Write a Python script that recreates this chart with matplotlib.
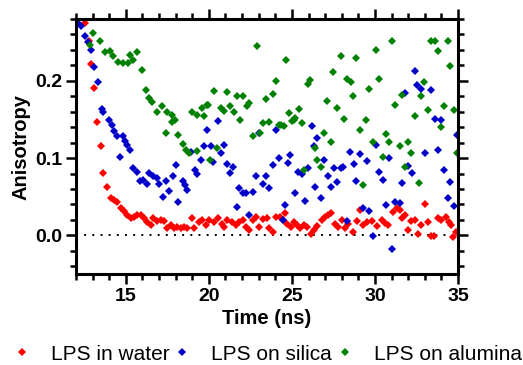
import numpy as np
import matplotlib
matplotlib.use("Agg")
import matplotlib.pyplot as plt
from matplotlib.ticker import MultipleLocator

plt.rcParams['font.family'] = ['Liberation Sans', 'DejaVu Sans']

# anisotropy decays
water_t = [12.54, 12.8, 12.9, 13.08, 13.28, 13.49, 13.65, 13.89, 14.09, 14.31, 14.49, 14.69,
           14.89, 15.09, 15.3, 15.49, 15.69, 15.9, 16.1, 16.3, 16.5, 16.66, 16.9, 17.1, 17.3,
           17.5, 17.7, 17.9, 18.1, 18.3, 18.5, 18.7, 18.97, 19.1, 19.43, 19.57, 19.83, 20.03,
           20.31, 20.57, 20.78, 20.92, 21.12, 21.38, 21.64, 21.84, 22.04, 22.24, 22.44, 22.64,
           22.84, 23.04, 23.24, 23.49, 23.65, 23.85, 24.05, 24.29, 24.49, 24.59, 24.73, 24.93,
           25.13, 25.33, 25.49, 25.73, 25.9, 26.14, 26.34, 26.54, 26.8, 27.0, 27.2, 27.34,
           27.6, 27.8, 28.0, 28.2, 28.4, 28.7, 28.9, 29.1, 29.3, 29.5, 29.8, 30.1, 30.4, 30.6,
           30.8, 31.1, 31.32, 31.48, 31.6, 31.8, 32.0, 32.2, 32.4, 32.6, 32.8, 33.02, 33.2,
           33.4, 33.55, 33.8, 34.0, 34.3, 34.45, 34.55, 34.7, 34.9]
water_r = [0.275, 0.251, 0.222, 0.191, 0.147, 0.116, 0.081, 0.063, 0.048, 0.046, 0.043, 0.036,
           0.032, 0.027, 0.022, 0.024, 0.027, 0.026, 0.022, 0.017, 0.014, 0.022, 0.019, 0.020, 0.019,
           0.009, 0.013, 0.010, 0.011, 0.009, 0.011, 0.010, 0.023, 0.009, 0.017, 0.020, 0.014, 0.020,
           0.017, 0.022, 0.015, 0.011, 0.020, 0.017, 0.014, 0.017, 0.020, 0.011, 0.007, 0.020,
           0.024, 0.011, 0.021, 0.022, 0.010, 0.004, 0.024, 0.024, 0.020, 0.029, 0.015, 0.011,
           0.017, 0.013, 0.010, 0.013, 0.011, 0.002, 0.007, 0.012, 0.020, 0.024, 0.026, 0.029,
           0.015, 0.011, 0.020, 0.010, 0.015, 0.004, 0.019, 0.033, 0.013, 0.017, 0.019, 0.012, 0.020, 0.016,
           0.013, 0.030, 0.035, 0.033, 0.022, 0.026, 0.007, 0.019, 0.020, 0.002, 0.013, 0.041, 0.017,
           -0.001, -0.001, 0.022, 0.020, 0.024, 0.017, 0.013, -0.002, 0.004]

silica_t = [12.14, 12.28, 12.54, 12.7, 12.9, 13.1, 13.3, 13.55, 13.65, 14.0, 14.15, 14.29, 14.49,
            14.65, 14.81, 14.95, 15.05, 15.25, 15.45, 15.65, 15.86, 16.05, 16.26, 16.42, 16.66,
            16.86, 17.02, 17.22, 17.42, 17.62, 17.83, 18.02, 18.16, 18.43, 18.57, 18.7, 18.91,
            19.17, 19.31, 19.51, 19.71, 19.9, 20.11, 20.27, 20.53, 20.72, 20.92, 21.08, 21.28,
            21.48, 21.68, 21.84, 22.04, 22.24, 22.44, 22.68, 22.84, 23.04, 23.25, 23.45, 23.65,
            23.85, 24.05, 24.25, 24.45, 24.59, 24.79, 24.9, 25.19, 25.39, 25.59, 25.79, 25.99,
            26.2, 26.36, 26.4, 26.54, 26.74, 26.94, 27.16, 27.34, 27.54, 27.74, 27.95, 28.1,
            28.3, 28.5, 28.75, 28.87, 29.1, 29.27, 29.51, 29.67, 29.87, 30.07, 30.27, 30.48,
            30.67, 30.87, 31.02, 31.22, 31.48, 31.62, 31.82, 32.02, 32.22, 32.42, 32.56, 32.78,
            33.02, 33.37, 33.6, 33.77, 33.97, 34.17, 34.37, 34.53, 34.73, 34.93]
silica_r = [0.275, 0.271, 0.258, 0.250, 0.240, 0.218, 0.199, 0.163, 0.160, 0.149, 0.143, 0.135, 0.128,
            0.102, 0.128, 0.122, 0.117, 0.111, 0.087, 0.082, 0.071, 0.072, 0.067, 0.081, 0.077,
            0.074, 0.066, 0.050, 0.071, 0.058, 0.077, 0.091, 0.043, 0.071, 0.065, 0.059, 0.108,
            0.084, 0.080, 0.097, 0.116, 0.137, 0.116, 0.095, 0.148, 0.106, 0.117, 0.092, 0.081,
            0.089, 0.037, 0.061, 0.055, 0.055, 0.026, 0.056, 0.077, 0.132, 0.066, 0.077, 0.061,
            0.091, 0.136, 0.100, 0.020, 0.039, 0.094, 0.104, 0.055, 0.082, 0.079, 0.045, 0.087,
            0.141, 0.116, 0.063, 0.126, 0.049, 0.097, 0.077, 0.063, 0.087, 0.069, 0.087, 0.088,
            0.019, 0.108, 0.092, 0.071, 0.105, 0.035, 0.096, 0.032, -0.001, 0.117, 0.082, 0.072,
            0.039, 0.100, -0.018, 0.043, 0.042, 0.068, 0.184, 0.090, 0.081, 0.213, 0.195, 0.190,
            0.106, 0.188, 0.151, 0.111, 0.149, 0.084, 0.048, 0.069, 0.038, 0.130]

alumina_t = [12.84, 13.04, 13.45, 13.75, 14.05, 14.25, 14.55, 14.85, 15.15, 15.25, 15.45, 15.65,
             15.96, 16.2, 16.42, 16.56, 16.86, 17.16, 17.42, 17.46, 17.76, 17.78, 17.96, 18.16,
             18.43, 18.63, 18.83, 18.97, 19.27, 19.31, 19.57, 19.71, 19.87, 19.97, 20.07, 20.31,
             20.48, 20.72, 20.9, 21.11, 21.3, 21.5, 21.68, 21.9, 22.08, 22.28, 22.44, 22.64,
             22.88, 23.08, 23.25, 23.45, 23.65, 23.85, 24.03, 24.2, 24.35, 24.5, 24.63, 24.8,
             24.99, 25.1, 25.2, 25.4, 25.6, 25.73, 25.94, 26.1, 26.4, 26.54, 26.74, 26.94, 27.14,
             27.34, 27.5, 27.74, 27.94, 28.12, 28.3, 28.55, 28.7, 28.87, 29.1, 29.3, 29.47,
             29.67, 29.87, 30.07, 30.25, 30.48, 30.67, 30.87, 31.02, 31.22, 31.48, 31.62, 31.82,
             32.02, 32.18, 32.42, 32.63, 32.78, 32.98, 33.19, 33.37, 33.6, 33.77, 33.95, 34.17,
             34.37, 34.53, 34.73, 34.93]
alumina_r = [0.247, 0.262, 0.251, 0.237, 0.239, 0.232, 0.225, 0.223, 0.223, 0.234, 0.227, 0.237,
             0.214, 0.188, 0.178, 0.173, 0.160, 0.167, 0.133, 0.160, 0.156, 0.147, 0.149, 0.130,
             0.118, 0.111, 0.107, 0.160, 0.156, 0.109, 0.165, 0.154, 0.169, 0.169, 0.097, 0.187,
             0.113, 0.165, 0.161, 0.185, 0.168, 0.160, 0.181, 0.149, 0.180, 0.168, 0.171, 0.128,
             0.245, 0.133, 0.145, 0.177, 0.147, 0.183, 0.200, 0.143, 0.143, 0.141, 0.227, 0.159,
             0.148, 0.149, 0.152, 0.163, 0.145, 0.085, 0.196, 0.201, 0.113, 0.097, 0.089, 0.132, 0.174,
             0.121, 0.211, 0.165, 0.232, 0.150, 0.203, 0.199, 0.180, 0.229, 0.136, 0.065, 0.149,
             0.189, 0.121, 0.240, 0.203, 0.101, 0.131, 0.121, 0.252, 0.169, 0.116, 0.182, 0.088,
             0.121, 0.106, 0.155, 0.068, 0.181, 0.199, 0.162, 0.252, 0.252, 0.238, 0.140, 0.167,
             0.252, 0.219, 0.162, 0.107]

series = [("LPS in water", water_t, water_r, "#ff0000"),
          ("LPS on silica", silica_t, silica_r, "#0000c8"),
          ("LPS on alumina", alumina_t, alumina_r, "#008000")]

fig = plt.figure(figsize=(5.23, 3.65), dpi=100)
ax = fig.add_axes([0.1453, 0.2493, 0.7304, 0.6986])

for label, t, r, c in series:
    ax.plot(t, r, ls="none", marker="D", ms=4.2, mew=0, color=c, label=label)

ax.axhline(0, color="black", ls=(0, (1, 3.2)), lw=1.4, zorder=0)

ax.set_xlim(12, 35)
ax.set_ylim(-0.05, 0.28)
ax.set_xticks([15, 20, 25, 30, 35])
ax.set_yticks([0.0, 0.1, 0.2])
ax.set_yticklabels(["0.0", "0.1", "0.2"])
ax.xaxis.set_minor_locator(MultipleLocator(1))
ax.yaxis.set_minor_locator(MultipleLocator(0.02))

for s in ax.spines.values():
    s.set_linewidth(2.2)
ax.tick_params(which="both", direction="out", top=True, right=True, width=1.8)
ax.tick_params(which="major", length=7, labelsize=14, pad=3)
ax.tick_params(which="minor", length=4)
for lab in ax.get_xticklabels() + ax.get_yticklabels():
    lab.set_fontweight("bold")

ax.set_xlabel("Time (ns)", fontsize=14.5, fontweight="bold", labelpad=3)
ax.set_ylabel("Anisotropy", fontsize=14.5, fontweight="bold", labelpad=3)

fig.legend(loc="center", bbox_to_anchor=(0.51, 0.03), ncol=3, frameon=False,
           fontsize=15, handlelength=1.0, handletextpad=0.9, columnspacing=0.1,
           borderaxespad=0, borderpad=0)

fig.savefig("out.png", dpi=100)
